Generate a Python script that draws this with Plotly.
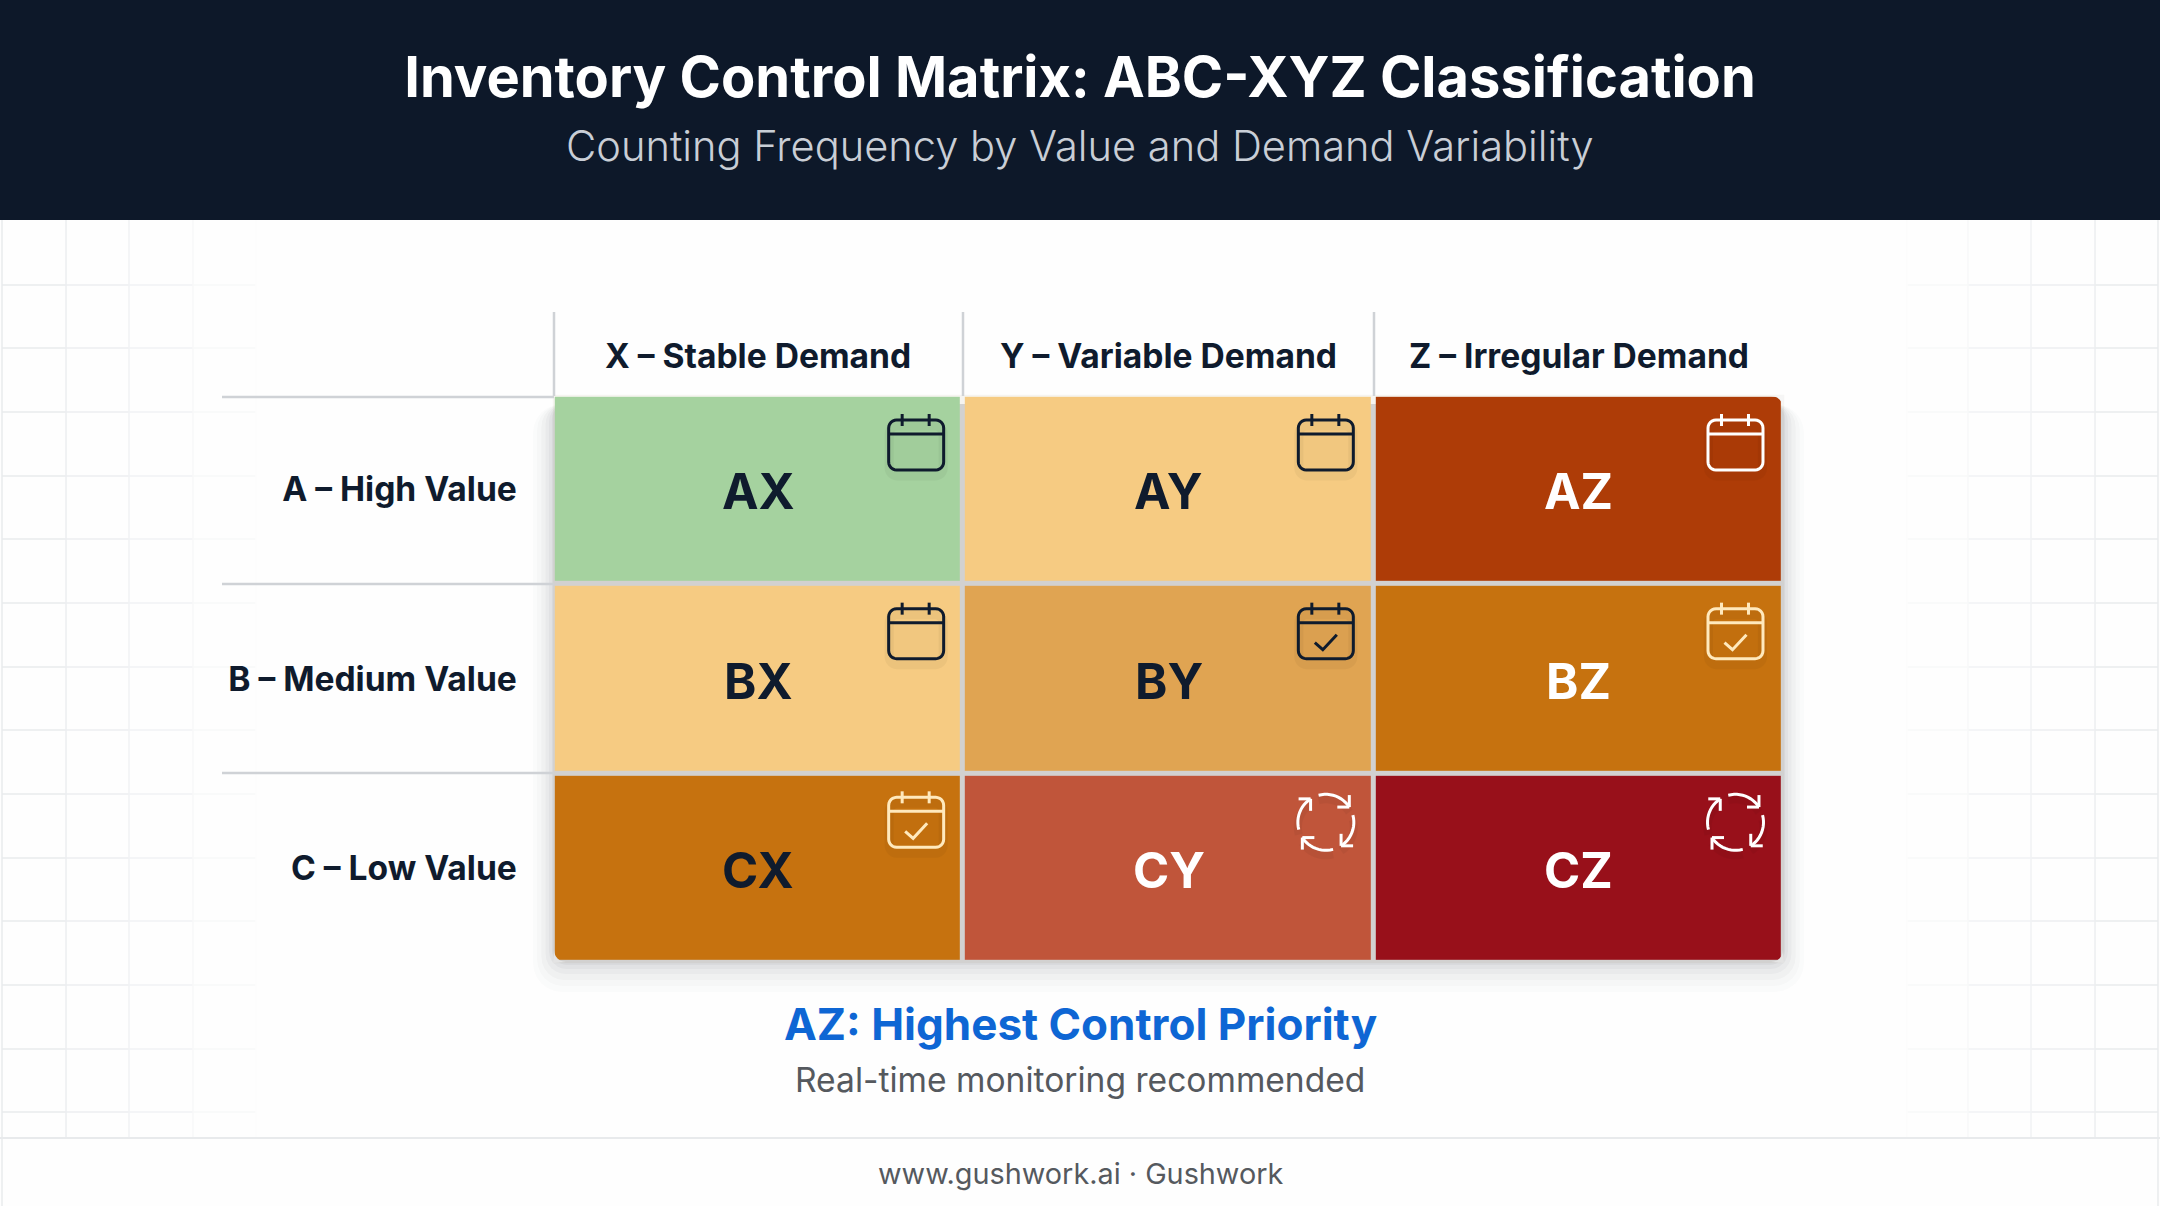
import math
import plotly.graph_objects as go

W, H = 2160, 1206

# matrix data
col_labels = ["X – Stable Demand", "Y – Variable Demand", "Z – Irregular Demand"]
row_labels = ["A – High Value", "B – Medium Value", "C – Low Value"]
cell_codes = [["AX", "AY", "AZ"], ["BX", "BY", "BZ"], ["CX", "CY", "CZ"]]
# colour class of each cell, index into class_colors
cell_class = [[0, 1, 4], [1, 2, 3], [3, 5, 6]]
class_colors = ["#a5d29f", "#f6cb82", "#e0a452", "#c6720f", "#ae3c07", "#c0553a", "#98101a"]
text_colors = [["#0f1b2d", "#0f1b2d", "#ffffff"],
               ["#0f1b2d", "#0f1b2d", "#ffffff"],
               ["#0f1b2d", "#ffffff", "#ffffff"]]
# icon of each cell: e = empty calendar, c = checked calendar, r = recount cycle
cell_icons = [["e", "e", "e"], ["e", "c", "c"], ["c", "r", "r"]]
icon_colors = [["#0f1b2d", "#0f1b2d", "#ffffff"],
               ["#0f1b2d", "#0f1b2d", "#ffe9bd"],
               ["#ffe9bd", "#ffffff", "#ffffff"]]

# page layout, in screen pixels
LEFT, RIGHT, TOP, BOTTOM = 554, 1783, 396, 962
GAP = 5
HEADER_H = 220
FOOTER_Y = 1138


def px(x, y):
    return x / W, 1 - y / H


def path(points, close=False):
    parts = []
    for i, (x, y) in enumerate(points):
        u, v = px(x, y)
        parts.append(("M" if i == 0 else "L") + f"{u:.5f},{v:.5f}")
    return " ".join(parts) + (" Z" if close else "")


def round_rect(x0, y0, x1, y1, r):
    pts = []
    for cx, cy, start in [(x1 - r, y0 + r, -90), (x1 - r, y1 - r, 0), (x0 + r, y1 - r, 90), (x0 + r, y0 + r, 180)]:
        for k in range(7):
            a = math.radians(start + k * 15)
            pts.append((cx + r * math.cos(a), cy + r * math.sin(a)))
    return path(pts, close=True)


shapes = []


def line_shape(d, color, width, opacity=1.0, layer="above"):
    shapes.append(dict(type="path", path=d, xref="paper", yref="paper", layer=layer, opacity=opacity,
                       line=dict(color=color, width=width)))


def fill_shape(d, color, opacity=1.0, layer="below"):
    shapes.append(dict(type="path", path=d, xref="paper", yref="paper", layer=layer, opacity=opacity,
                       fillcolor=color, line=dict(width=0)))


# faint background grid near the page sides, fading towards the middle
grid_left = [(2, "#e9ebed"), (66, "#eceef0"), (129, "#f1f2f4"), (193, "#f7f8f9"), (256, "#fcfcfc")]
grid_right = [(2158, "#e9ebed"), (2095, "#eceef0"), (2031, "#f1f2f4"), (1968, "#f7f8f9"), (1907, "#fcfcfc")]
grid_y = [285, 348, 412, 476, 539, 603, 667, 730, 794, 858, 921, 985, 1049, 1112]
for side in (grid_left, grid_right):
    for k, (gx, color) in enumerate(side):
        bottom = H if k == 0 else FOOTER_Y
        line_shape(path([(gx, HEADER_H), (gx, bottom)]), color, 1.5, layer="below")
        if k < len(side) - 1:
            for gy in grid_y:
                line_shape(path([(gx, gy), (side[k + 1][0], gy)]), color, 1.5, layer="below")

# header and footer
fill_shape(path([(0, 0), (W, 0), (W, HEADER_H), (0, HEADER_H)], close=True), "#0d1829")
line_shape(path([(0, FOOTER_Y), (W, FOOTER_Y)]), "#e8eaec", 2, layer="below")

# matrix drop shadow
for grow, alpha in [(30, 0.016), (24, 0.02), (18, 0.026), (12, 0.032), (7, 0.036), (3, 0.04)]:
    fill_shape(round_rect(LEFT - grow * 0.7, TOP + 8, RIGHT + grow * 0.7, BOTTOM + grow, 14 + grow * 0.5), "#1b2430", alpha)

# separator lines of the row and column headers
COL_X = [554, 963, 1374]
ROW_Y = [397, 584, 773]
for cx in COL_X:
    line_shape(path([(cx, 312), (cx, TOP)]), "#cfd2d6", 2.5, layer="below")
for ry in ROW_Y:
    line_shape(path([(222, ry), (LEFT, ry)]), "#cfd2d6", 2.5, layer="below")

col_w = (RIGHT - LEFT) / 3
row_h = (BOTTOM - TOP) / 3


def calendar(cx, cy, color, checked):
    body = round_rect(cx - 27.5, cy - 25, cx + 27.5, cy + 25, 8)
    line_shape(round_rect(cx - 27, cy - 19, cx + 27, cy + 31, 8), "#000000", 9, 0.035)
    fill_shape(round_rect(cx - 27, cy - 10, cx + 27, cy + 24, 7), "#000000", 0.02, layer="above")
    line_shape(body, color, 3)
    line_shape(path([(cx - 27.5, cy - 11), (cx + 27.5, cy - 11)]), color, 3)
    for dx in (-14, 13):
        line_shape(path([(cx + dx, cy - 31), (cx + dx, cy - 19)]), color, 3)
    if checked:
        line_shape(path([(cx - 11, cy + 9), (cx - 3, cy + 16), (cx + 11, cy + 1)]), color, 3)


def cycle(cx, cy, color):
    r = 28
    # arcs run clockwise, each ends in an arrow with barbs along the screen axes
    barbs = [((-1, 0), (0, -1)), ((0, -1), (1, 0)), ((1, 0), (0, 1)), ((0, 1), (-1, 0))]
    for q, start in enumerate((-105, -15, 75, 165)):
        end = start + 72
        pts = []
        for k in range(13):
            a = math.radians(start + (end - start) * k / 12)
            pts.append((cx + r * math.cos(a), cy + r * math.sin(a)))
        line_shape(path([(x, y + 5) for x, y in pts]), "#000000", 8, 0.04)
        line_shape(path(pts), color, 3)
        tip = pts[-1]
        for ux, uy in barbs[q]:
            line_shape(path([tip, (tip[0] + 12 * ux, tip[1] + 12 * uy)]), color, 3)


for i in range(3):
    for j in range(3):
        cx = LEFT + col_w * (j + 1) - 47.5
        cy = TOP + row_h * i + 49
        if cell_icons[i][j] == "r":
            cycle(cx, cy, icon_colors[i][j])
        else:
            calendar(cx, cy, icon_colors[i][j], cell_icons[i][j] == "c")

# corner masks so the heatmap corners look rounded
for (x, y, dx, dy, color) in [(RIGHT, TOP, -1, 1, "#f6f6f6"), (RIGHT, BOTTOM, -1, -1, "#e4e4e4"), (LEFT, BOTTOM, 1, -1, "#e4e4e4")]:
    r = 12
    pts = [(x + dx * -1, y + dy * -1)]
    for k in range(7):
        a = math.radians(k * 15)
        pts.append((x + dx * (r - r * math.sin(a)), y + dy * (r - r * math.cos(a))))
    fill_shape(path(pts, close=True), color, layer="above")

n = len(class_colors)
colorscale = []
for k, c in enumerate(class_colors):
    colorscale += [[k / n, c], [(k + 1) / n, c]]

fig = go.Figure(go.Heatmap(
    x=col_labels,
    y=row_labels,
    z=cell_class,
    zmin=0,
    zmax=n,
    colorscale=colorscale,
    showscale=False,
    xgap=GAP,
    ygap=GAP,
    hoverinfo="skip",
))

# cell codes
for i, row in enumerate(cell_codes):
    for j, code in enumerate(row):
        fig.add_annotation(x=col_labels[j], y=row_labels[i], xref="x", yref="y", text=code, showarrow=False,
                           yshift=-2, font=dict(family="Inter", size=49, weight=700, color=text_colors[i][j]))


def label(text, y, size, color, weight=400):
    fig.add_annotation(x=0.5, y=1 - y / H, xref="paper", yref="paper", text=text, showarrow=False,
                       xanchor="center", yanchor="middle",
                       font=dict(family="Inter", size=size, weight=weight, color=color))


label("Counting Frequency by Value and Demand Variability", 146, 41.6, "#c9ced6", 300)
label("AZ: Highest Control Priority", 1024, 44, "#0e66d4", 700)
label("Real-time monitoring recommended", 1079, 33.6, "#55595e")
label("www.gushwork.ai · Gushwork", 1173, 28.8, "#55595e")

tick_font = dict(family="Inter", size=33.6, weight=700, color="#0f1b2d")
EDGE = 1.2

fig.update_layout(
    width=W,
    height=H,
    margin=dict(l=0, r=0, t=0, b=0),
    paper_bgcolor="#fefefe",
    plot_bgcolor="#f6f4f0",
    title=dict(text="Inventory Control Matrix: ABC-XYZ Classification", x=0.5, xanchor="center", xref="paper",
               y=1 - 77 / H, yanchor="middle", yref="paper",
               font=dict(family="Inter", size=56, weight=700, color="#ffffff")),
    shapes=shapes,
    showlegend=False,
    xaxis=dict(domain=[(LEFT - EDGE) / W, (RIGHT + EDGE) / W], side="top", showgrid=False, zeroline=False,
               ticks="", ticklen=0, ticklabelstandoff=19, tickfont=tick_font),
    yaxis=dict(domain=[1 - (BOTTOM + EDGE) / H, 1 - (TOP - EDGE) / H], autorange="reversed", showgrid=False,
               zeroline=False, ticks="", ticklen=0, ticklabelstandoff=35, tickfont=tick_font),
)

fig.write_html("out.html", config=dict(displayModeBar=False),
               post_script="document.body.style.margin='0';document.body.style.overflow='hidden';")
